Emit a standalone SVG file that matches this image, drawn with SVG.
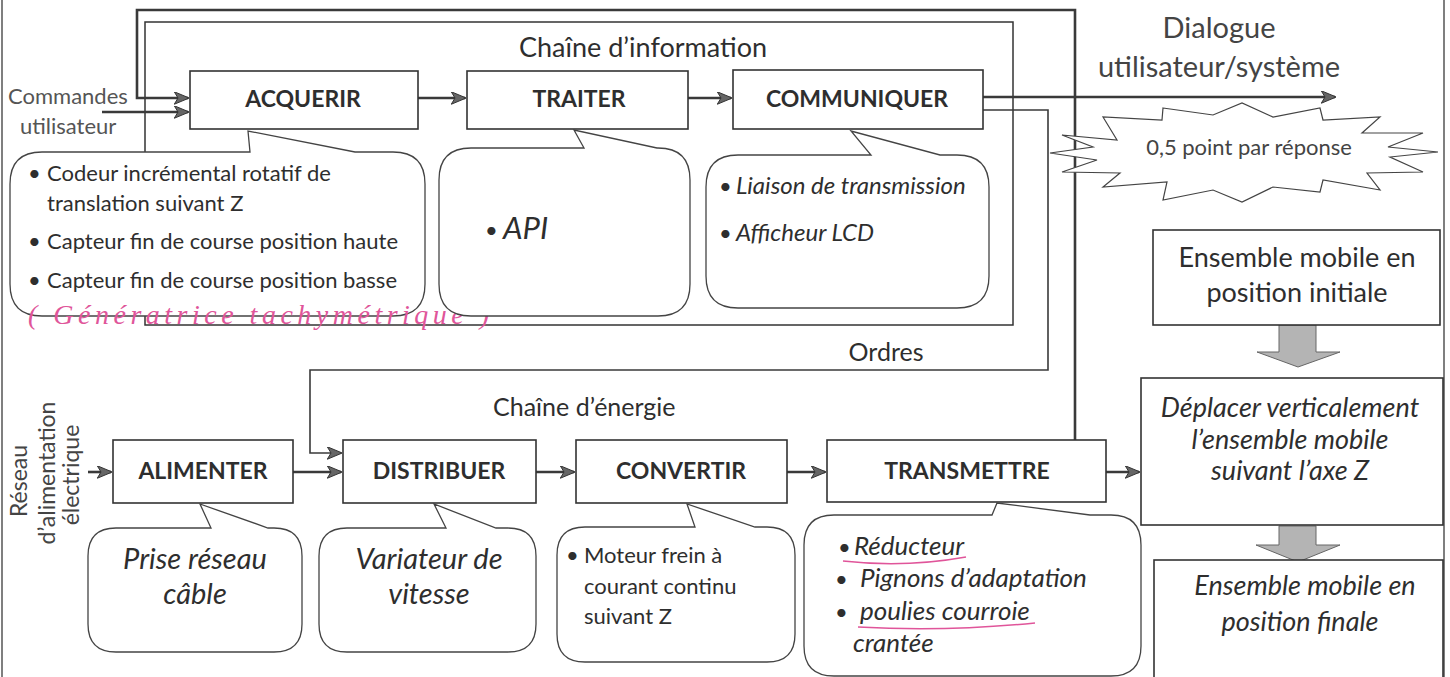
<svg xmlns="http://www.w3.org/2000/svg" width="1450" height="677" viewBox="0 0 1450 677">
<defs>
<marker id="arr" viewBox="0 0 12 10" refX="11" refY="5" markerWidth="15" markerHeight="13" markerUnits="userSpaceOnUse" orient="auto">
<path d="M0,0 L12,5 L0,10 L3,5 z" fill="#666" stroke="#333" stroke-width="0.8"/>
</marker>
</defs>
<style>
text{font-family:Lato,"Open Sans","Liberation Sans",sans-serif;fill:#2e2e2e}
.box{fill:#fff;stroke:#333;stroke-width:1.6}
.bub{fill:#fff;stroke:#444;stroke-width:1.3}
.lbl{font-size:23px;font-weight:bold;text-anchor:middle}
.body{font-size:22px}
.it{font-size:24px;font-style:italic}
.big{font-size:27px;font-style:italic;text-anchor:middle}
.ttl{font-size:25px}
.con{fill:none;stroke:#3a3a3a;stroke-width:2.6}
.thin{fill:none;stroke:#3a3a3a;stroke-width:1.6}
.blk{fill:#b4b4b4;stroke:#666;stroke-width:1}
.pink{fill:none;stroke:#e0559a;stroke-width:1.5}
</style>
<rect width="1450" height="677" fill="#fff"/>
<g id="page-border">
<line x1="2" y1="0" x2="2" y2="677" stroke="#555" stroke-width="1.5"/>
<line x1="1444" y1="0" x2="1444" y2="677" stroke="#555" stroke-width="1.5"/>
</g>
<g id="chaine-information-frame">
<rect x="145" y="22" width="868" height="303" fill="none" stroke="#333" stroke-width="1.5"/>
<text class="ttl" x="643" y="57" text-anchor="middle" style="font-size:27px">Chaîne d’information</text>
</g>
<g id="connectors">
<polyline class="con" points="1075,440 1075,10 137,10 137,98 188,98" marker-end="url(#arr)"/>
<line class="con" x1="102" y1="112" x2="188" y2="112" marker-end="url(#arr)"/>
<line class="con" x1="418" y1="98" x2="465" y2="98" marker-end="url(#arr)"/>
<line class="con" x1="688" y1="98" x2="731" y2="98" marker-end="url(#arr)"/>
<line class="con" x1="983" y1="97" x2="1335" y2="97" marker-end="url(#arr)"/>
<polyline class="thin" points="983,110 1048,110 1048,370 310,370 310,453 341,453" marker-end="url(#arr)"/>
<line class="con" x1="88" y1="472" x2="111" y2="472" marker-end="url(#arr)"/>
<line class="con" x1="293" y1="472" x2="341" y2="472" marker-end="url(#arr)"/>
<line class="con" x1="536" y1="472" x2="574" y2="472" marker-end="url(#arr)"/>
<line class="con" x1="787" y1="472" x2="825" y2="472" marker-end="url(#arr)"/>
<line class="con" x1="1106" y1="472" x2="1139" y2="472" marker-end="url(#arr)"/>
<path class="blk" d="M1279,325 L1316,325 L1316,352 L1340,352 L1298,367 L1257,352 L1279,352 Z"/>
<path class="blk" d="M1279,526 L1316,526 L1316,545 L1340,545 L1298,562 L1256,545 L1279,545 Z"/>
</g>
<g id="commandes-label">
<text x="8" y="104" style="font-size:22px;fill:#555">Commandes</text>
<text x="20" y="134" style="font-size:22px;fill:#555">utilisateur</text>
</g>
<g id="reseau-label">
<text x="27" y="481" transform="rotate(-90 27 481)" text-anchor="middle" style="font-size:23px;fill:#444">Réseau</text>
<text x="55" y="473" transform="rotate(-90 55 473)" text-anchor="middle" style="font-size:23px;fill:#444">d’alimentation</text>
<text x="79" y="475" transform="rotate(-90 79 475)" text-anchor="middle" style="font-size:23px;fill:#444">électrique</text>
</g>
<g id="acquerir">
<rect class="box" x="190" y="71" width="228" height="58"/>
<text class="lbl" x="303" y="107">ACQUERIR</text>
</g>
<g id="traiter">
<rect class="box" x="467" y="71" width="221" height="58"/>
<text class="lbl" x="579" y="107">TRAITER</text>
</g>
<g id="communiquer">
<rect class="box" x="733" y="70" width="250" height="59"/>
<text class="lbl" x="857" y="107">COMMUNIQUER</text>
</g>
<g id="bulle-acquerir">
<path class="bub" d="M42,152 L250,152 L248,131 L355,152 L393,152 Q425,152 425,184 L425,284 Q425,316 393,316 L42,316 Q10,316 10,284 L10,184 Q10,152 42,152 Z"/>
<text class="body" x="28" y="181">•</text>
<text class="body" x="47" y="181">Codeur incrémental rotatif de</text>
<text class="body" x="47" y="211">translation suivant Z</text>
<text class="body" x="28" y="249">•</text>
<text class="body" x="47" y="249">Capteur fin de course position haute</text>
<text class="body" x="28" y="288">•</text>
<text class="body" x="47" y="288">Capteur fin de course position basse</text>
<text x="28" y="324" style="font-family:'Liberation Serif',serif;font-style:italic;font-size:28px;fill:#e0559a;letter-spacing:4.5px">( Génératrice tachymétrique )</text>
</g>
<g id="bulle-traiter">
<path class="bub" d="M471,148 L584,148 L574,130 L657,148 L658,148 Q690,148 690,180 L690,284 Q690,316 658,316 L471,316 Q439,316 439,284 L439,180 Q439,148 471,148 Z"/>
<text x="485" y="238" style="font-size:22px">•</text>
<text x="503" y="239" style="font-size:31px;font-style:italic">API</text>
</g>
<g id="bulle-communiquer">
<path class="bub" d="M738,155 L871,155 L851,131 L940,155 L957,155 Q989,155 989,187 L989,276 Q989,308 957,308 L738,308 Q706,308 706,276 L706,187 Q706,155 738,155 Z"/>
<text class="body" x="719" y="194">•</text>
<text class="it" x="736" y="194">Liaison de transmission</text>
<text class="body" x="719" y="241">•</text>
<text class="it" x="736" y="241">Afficheur LCD</text>
</g>
<g id="dialogue">
<text x="1219" y="38" text-anchor="middle" style="font-size:29px;fill:#444">Dialogue</text>
<text x="1219" y="77" text-anchor="middle" style="font-size:29px;fill:#444">utilisateur/système</text>
</g>
<g id="bareme">
<path d="M1163,108 L1213,115 L1242,103 L1273,117 L1320,108 L1323,120 L1380,117 L1362,133 L1423,133 L1388,147 L1438,152 L1390,157 L1423,172 L1367,173 L1380,190 L1323,180 L1320,192 L1273,187 L1242,202 L1213,190 L1163,200 L1167,182 L1103,187 L1120,173 L1062,172 L1097,160 L1050,153 L1093,147 L1062,135 L1117,140 L1103,117 L1162,120 Z" fill="#fff" stroke="#444" stroke-width="1.2"/>
<text x="1249" y="155" text-anchor="middle" style="font-size:22px;fill:#444">0,5 point par réponse</text>
</g>
<g id="etat-initial">
<rect class="box" x="1153" y="230" width="287" height="95"/>
<text x="1297" y="267" text-anchor="middle" style="font-size:27px">Ensemble mobile en</text>
<text x="1297" y="302" text-anchor="middle" style="font-size:27px">position initiale</text>
</g>
<g id="fonction-globale">
<rect class="box" x="1141" y="378" width="302" height="147"/>
<text class="big" x="1290" y="417">Déplacer verticalement</text>
<text class="big" x="1290" y="449">l’ensemble mobile</text>
<text class="big" x="1290" y="480">suivant l’axe Z</text>
</g>
<g id="etat-final">
<rect class="box" x="1154" y="560" width="289" height="125"/>
<text class="big" x="1305" y="595">Ensemble mobile en</text>
<text class="big" x="1300" y="631">position finale</text>
</g>
<g id="chaine-energie-labels">
<text class="ttl" x="886" y="361" text-anchor="middle">Ordres</text>
<text class="ttl" x="493" y="416">Chaîne d’énergie</text>
</g>
<g id="alimenter">
<rect class="box" x="113" y="440" width="180" height="63"/>
<text class="lbl" x="203" y="479">ALIMENTER</text>
</g>
<g id="distribuer">
<rect class="box" x="343" y="440" width="193" height="63"/>
<text class="lbl" x="439" y="479">DISTRIBUER</text>
</g>
<g id="convertir">
<rect class="box" x="576" y="440" width="211" height="63"/>
<text class="lbl" x="681" y="479">CONVERTIR</text>
</g>
<g id="transmettre">
<rect class="box" x="827" y="440" width="279" height="62"/>
<text class="lbl" x="967" y="479">TRANSMETTRE</text>
</g>
<g id="bulle-alimenter">
<path class="bub" d="M116,528 L211,528 L200,504 L268,528 L274,528 Q302,528 302,556 L302,624 Q302,652 274,652 L116,652 Q88,652 88,624 L88,556 Q88,528 116,528 Z"/>
<text class="big" x="195" y="569" style="font-size:29px">Prise réseau</text>
<text class="big" x="195" y="604" style="font-size:29px">câble</text>
</g>
<g id="bulle-distribuer">
<path class="bub" d="M347,528 L446,528 L434,504 L496,528 L508,528 Q536,528 536,556 L536,624 Q536,652 508,652 L347,652 Q319,652 319,624 L319,556 Q319,528 347,528 Z"/>
<text class="big" x="429" y="569" style="font-size:29px">Variateur de</text>
<text class="big" x="429" y="604" style="font-size:29px">vitesse</text>
</g>
<g id="bulle-convertir">
<path class="bub" d="M585,527 L695,527 L687,504 L755,527 L767,527 Q795,527 795,555 L795,634 Q795,662 767,662 L585,662 Q557,662 557,634 L557,555 Q557,527 585,527 Z"/>
<text class="body" x="566" y="563">•</text>
<text class="body" x="584" y="563">Moteur frein à</text>
<text class="body" x="584" y="594">courant continu</text>
<text class="body" x="584" y="624">suivant Z</text>
</g>
<g id="bulle-transmettre">
<path class="bub" d="M834,515 L992,515 L997,503 L1090,515 L1111,515 Q1141,515 1141,545 L1141,646 Q1141,676 1111,676 L834,676 Q804,676 804,646 L804,545 Q804,515 834,515 Z"/>
<text class="body" x="838" y="555">•</text>
<text class="it" x="854" y="555" style="font-size:26px">Réducteur</text>
<text class="body" x="835" y="587">•</text>
<text class="it" x="860" y="587" style="font-size:26px">Pignons d’adaptation</text>
<text class="body" x="835" y="620">•</text>
<text class="it" x="860" y="620" style="font-size:26px">poulies courroie</text>
<text class="it" x="853" y="652" style="font-size:26px">crantée</text>
<path class="pink" d="M843,561 Q905,568 966,557"/>
<path class="pink" d="M858,627 Q945,632 1035,623"/>
</g>
</svg>
